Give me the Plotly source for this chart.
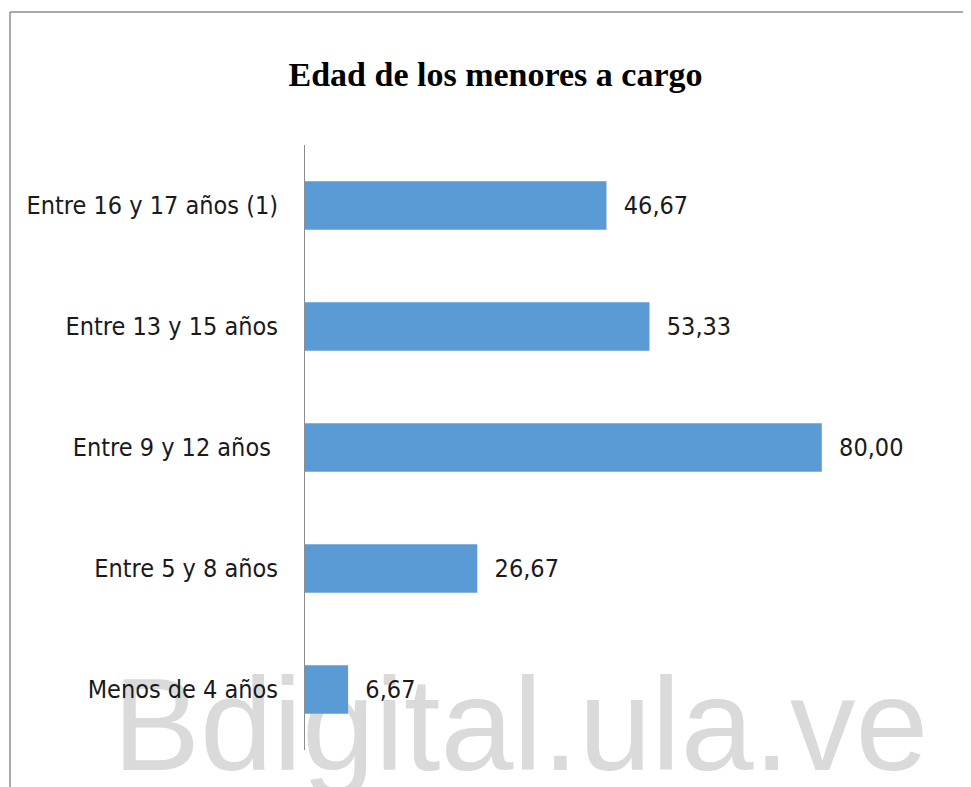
import plotly.graph_objects as go

categories = ["Menos de 4 años", "Entre 5 y 8 años", "Entre 9 y 12 años\u00a0",
              "Entre 13 y 15 años", "Entre 16 y 17 años (1)"]
values = [6.67, 26.67, 80.00, 53.33, 46.67]
title_text = "Edad de los menores a cargo"
watermark = "Bdigital.ula.ve"

label_font = dict(family="Liberation Sans Narrow, DejaVu Sans Condensed, sans-serif",
                  size=25, color="#1a1a1a")

W, H = 963, 779
L, R, T, B = 297, 20, 137, 37
PW, PH = W - L - R, H - T - B

fig = go.Figure(go.Bar(
    x=values, y=categories, orientation="h",
    marker=dict(color="#5b9bd5", line=dict(width=0)),
    texttemplate="\u00a0\u00a0%{x:.2f}", textposition="outside",
    constraintext="none", cliponaxis=False,
    textfont=label_font,
))

fig.update_layout(
    width=W, height=H,
    paper_bgcolor="white", plot_bgcolor="white",
    separators=",.",
    margin=dict(l=L, r=R, t=T, b=B),
    bargap=0.6,
    showlegend=False,
    title=dict(text="<b>" + title_text + "</b>", x=487.5 / W, xanchor="center",
               xref="container", yref="container", y=1 - 66 / H, yanchor="middle",
               font=dict(family="Liberation Serif, Times New Roman, serif", size=34, color="black")),
    xaxis=dict(range=[0, 100], showgrid=False, showline=False, zeroline=False,
               showticklabels=False, ticks=""),
    yaxis=dict(showgrid=False, showline=True, linecolor="#8c8c8c", linewidth=1,
               ticks="", ticklabelstandoff=21, tickfont=label_font),
    shapes=[
        dict(type="line", xref="paper", yref="paper", x0=-(L - 2) / PW, x1=(W - L) / PW,
             y0=1 + (T - 4) / PH, y1=1 + (T - 4) / PH,
             line=dict(color="#8c8c8c", width=1.5)),
        dict(type="line", xref="paper", yref="paper", x0=-(L - 2) / PW, x1=-(L - 2) / PW,
             y0=-B / PH, y1=1 + (T - 4) / PH,
             line=dict(color="#8c8c8c", width=1.5)),
        dict(type="rect", xref="paper", yref="paper", layer="below",
             x0=-187 / PW, x1=618 / PW, y0=(37.5 - 80) / PH, y1=(37.5 + 80) / PH,
             line=dict(width=0), fillcolor="rgba(0,0,0,0)",
             label=dict(text=watermark, textposition="middle center",
                        font=dict(family="Liberation Sans, Arial, sans-serif",
                                  size=131, color="#dadada"))),
    ],
)

fig.write_html("out.html")
